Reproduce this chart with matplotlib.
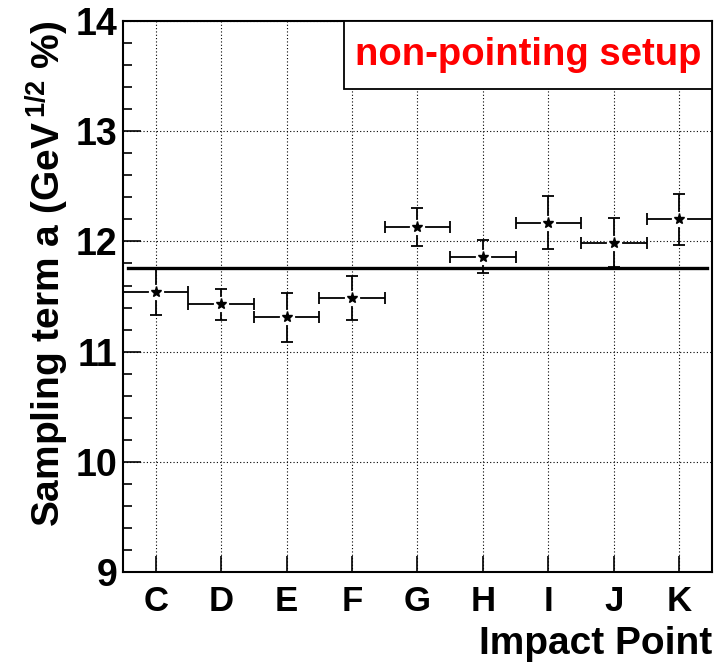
import matplotlib
matplotlib.use("Agg")
import matplotlib.pyplot as plt
from matplotlib.ticker import MultipleLocator
from matplotlib.patches import Rectangle

plt.rcParams['font.family'] = ['Liberation Sans', 'DejaVu Sans']
plt.rcParams['font.weight'] = 'bold'
plt.rcParams['mathtext.fontset'] = 'custom'
plt.rcParams['mathtext.rm'] = 'Liberation Sans:bold'
plt.rcParams['mathtext.bf'] = 'Liberation Sans:bold'

categories = ['C', 'D', 'E', 'F', 'G', 'H', 'I', 'J', 'K']
sampling_term = [11.54, 11.43, 11.31, 11.49, 12.13, 11.86, 12.17, 11.99, 12.20]
sampling_err = [0.21, 0.14, 0.22, 0.20, 0.17, 0.15, 0.24, 0.22, 0.23]
bin_halfwidth = [0.5] * len(categories)
fit_value = 11.76
legend_text = 'non-pointing setup'

fig = plt.figure(figsize=(7.17, 6.65), dpi=100)
ax = fig.add_axes([0.1715, 0.1398, 0.8215, 0.8286])

x = list(range(len(categories)))
ax.errorbar(x, sampling_term, yerr=sampling_err, xerr=bin_halfwidth,
            fmt='none', ecolor='black', elinewidth=1.3, capsize=4,
            capthick=1.3, zorder=3)
ax.plot(x, sampling_term, linestyle='none', marker='o', markersize=11,
        markerfacecolor='white', markeredgecolor='none', zorder=4)
ax.plot(x, sampling_term, linestyle='none', marker='*', markersize=8,
        color='black', zorder=5)

ax.axhline(fit_value, xmin=0.008, xmax=0.992, color='black', lw=2.4, zorder=6)

ax.set_xlim(-0.5, len(categories) - 0.5)
ax.set_ylim(9, 14)
ax.set_xticks(x)
ax.set_xticklabels(categories)
ax.yaxis.set_major_locator(MultipleLocator(1))
ax.yaxis.set_minor_locator(MultipleLocator(0.2))

ax.grid(True, which='major', linestyle=(0, (1, 2)), color='black', lw=0.8)
ax.set_axisbelow(True)

ax.tick_params(axis='x', which='major', direction='in', length=11.5,
               width=1.2, labelsize=25, pad=9, top=False)
ax.tick_params(axis='y', which='major', direction='in', length=13,
               width=1.2, labelsize=27, pad=4, right=False)
ax.tick_params(axis='y', which='minor', direction='in', length=6.5,
               width=1.2, right=False)
ax.tick_params(axis='x', which='minor', bottom=False, top=False)
for lab in ax.get_xticklabels() + ax.get_yticklabels():
    lab.set_fontweight('bold')

for s in ax.spines.values():
    s.set_linewidth(1.5)

ax.set_xlabel('Impact Point', fontsize=28, fontweight='bold', loc='right',
              labelpad=6)
ax.set_ylabel(r'Sampling term a (GeV$^{\,1/2}$ %)', fontsize=28,
              fontweight='bold', loc='top', labelpad=3)

box = Rectangle((0.376, 0.8766), 0.624, 0.1234, transform=ax.transAxes,
                facecolor='white', edgecolor='black', lw=1.3, zorder=7,
                clip_on=False)
ax.add_patch(box)
ax.text(0.688, 0.938, legend_text, transform=ax.transAxes, color='red',
        fontsize=27.5, fontweight='bold', ha='center', va='center', zorder=8)

fig.savefig('out.png', dpi=100)
